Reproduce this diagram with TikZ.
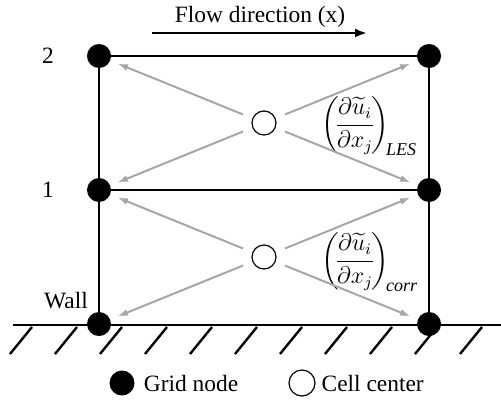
\documentclass[tikz,border=0pt]{standalone}
\usepackage{amsmath}
\usepackage{fontspec}
\setmainfont{Liberation Serif}
\usepackage{tikz}
\usetikzlibrary{positioning,calc,arrows.meta}

\newcommand{\subtag}[1]{\text{\fontsize{9}{10}\selectfont\itshape #1}}

\tikzset{
  gridnode/.style={circle, fill=black, minimum size=12pt, inner sep=0pt},
  cellnode/.style={circle, draw=black, fill=white, line width=0.6pt, minimum size=12pt, inner sep=0pt},
  cellline/.style={line width=1.4pt},
  hatch/.style={line width=1.2pt},
  grayarrow/.style={draw=black!35, line width=1pt, -{Latex[length=5pt,width=3.6pt]}, shorten <=5pt, shorten >=4pt},
  derivlabel/.style={inner sep=0pt, font=\fontsize{12}{14}\selectfont}
}

\begin{document}
\begin{tikzpicture}[x=0.5pt, y=-0.5pt, node distance=67pt, font=\fontsize{11.7}{14}\selectfont]
        \useasboundingbox (0,0) rectangle (501,401);

        % grid nodes
        \node[gridnode] (wL) at (99,324) {};
        \node[gridnode] (oneL) [on grid, above=67pt of wL] {};
        \node[gridnode] (twoL) [on grid, above=67pt of oneL] {};
        \node[gridnode] (wR) [on grid, right=165pt of wL] {};
        \node[gridnode] (oneR) [on grid, right=165pt of oneL] {};
        \node[gridnode] (twoR) [on grid, right=165pt of twoL] {};

        % cell centers
        \node[cellnode] (c1) at ($(wL)!.5!(oneR)$) {};
        \node[cellnode] (c2) at ($(oneL)!.5!(twoR)$) {};

        % labels
        \node (lab2) [on grid, left=25.5pt of twoL] {2};
        \node (lab1) [on grid, left=25.5pt of oneL] {1};
        \node (wall) at (66,301) {Wall};
        \node[derivlabel] (dLES) [right=22pt of c2, yshift=-1.5pt]
          {$\displaystyle\left(\!\frac{\partial\widetilde{u}_i}{\partial x_j}\!\right)_{\!\subtag{LES}}$};
        \node[derivlabel] (dcorr) [right=22pt of c1, yshift=-2.5pt]
          {$\displaystyle\left(\!\frac{\partial\widetilde{u}_i}{\partial x_j}\!\right)_{\!\subtag{corr}}$};

        % flow direction
        \node (flow) at (260,17) {Flow direction (x)};
        \coordinate (fs) at (152,33);
        \coordinate (fe) at (367,33);
        \draw[line width=1.2pt, -{Latex[length=6pt,width=4.5pt]}] (fs) -- (fe);

        \path[cellline]
          % cell edges
          (twoL) edge (twoR)
          (oneL) edge (oneR)
          (twoL) edge (oneL)
          (oneL) edge (wL)
          (twoR) edge (oneR)
          (oneR) edge (wR);

        \path
          % from upper cell center to its corners
          (c2) edge[grayarrow] (twoL)
          (c2) edge[grayarrow] (twoR)
          (c2) edge[grayarrow] (oneL)
          (c2) edge[grayarrow] (oneR)

          % from lower cell center to its corners
          (c1) edge[grayarrow] (oneL)
          (c1) edge[grayarrow] (oneR)
          (c1) edge[grayarrow] (wL)
          (c1) edge[grayarrow] (wR);

        % wall
        \coordinate (gl) at (13,325);
        \coordinate (gr) at (501,325);
        \draw[cellline] (gl) -- (gr);
        \foreach \x in {0,...,10}
          \draw[hatch] (32+45*\x,327) -- ++(-22,27);

        % legend
        \node[gridnode, minimum size=12.5pt] (keyG) at (122,383) {};
        \node (keyGt) [right=1pt of keyG] {Grid node};
        \node[cellnode, minimum size=13pt] (keyC) at (302,383) {};
        \node (keyCt) [right=-0.5pt of keyC] {Cell center};
  \end{tikzpicture}
\end{document}
